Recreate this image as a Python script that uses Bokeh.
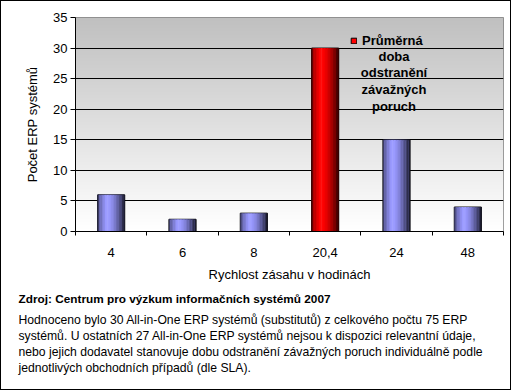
import numpy as np
from bokeh.plotting import figure
from bokeh.models import (ColumnDataSource, FixedTicker, Range1d, Label, Legend, LegendItem, Title)
from bokeh.embed import file_html
from bokeh.resources import INLINE

# ---- data ----
categories = ["4", "6", "8", "20,4", "24", "48"]
counts = [6, 2, 3, 30, 15, 4]
highlight = "20,4"
y_ticks = [0, 5, 10, 15, 20, 25, 30, 35]
y_label = "Počet ERP systémů"
x_label = "Rychlost zásahu v hodinách"
legend_lines = ["Průměrná", "doba", "odstranění", "závažných", "poruch"]
source_title = "Zdroj: Centrum pro výzkum informačních systémů 2007"
note_lines = [
    "Hodnoceno bylo 30 All-in-One ERP systémů (substitutů) z celkového počtu 75 ERP",
    "systémů. U ostatních 27 All-in-One ERP systémů nejsou k dispozici relevantní údaje,",
    "nebo jejich dodavatel stanovuje dobu odstranění závažných poruch individuálně podle",
    "jednotlivých obchodních případů (dle SLA).",
]

# ---- style ----
FONT = "Liberation Sans"
BLUE = (153, 153, 255)
RED = (255, 0, 0)
BAR_W = 0.38
N_STRIPS = 18

def shade(base, t):
    pts_t = [0.0, 0.08, 0.35, 0.6, 0.85, 1.0]
    pts_b = [0.25, 0.65, 1.08, 0.85, 0.45, 0.12]
    b = float(np.interp(t, pts_t, pts_b))
    rgb = []
    for c in base:
        if b <= 1:
            v = c * b
        else:
            v = c + (255 - c) * (b - 1) * 1.2
        rgb.append(int(max(0, min(255, v))))
    return "#%02x%02x%02x" % tuple(rgb)

n = len(categories)
xc = [i + 0.5 for i in range(n)]
base_colors = ["#%02x%02x%02x" % (RED if c == highlight else BLUE) for c in categories]

p = figure(width=511, height=390, x_range=Range1d(0, n), y_range=Range1d(0, 35),
           output_backend="svg", toolbar_location=None,
           min_border_left=74, min_border_right=9, min_border_top=16, min_border_bottom=160)
p.styles = {"border": "1px solid black"}
p.background_fill_color = "white"
p.border_fill_color = "white"
p.outline_line_color = "#808080"

# background gradient of the plot area
grad = np.zeros((64, 1), dtype=np.uint32)
view = grad.view(dtype=np.uint8).reshape((64, 1, 4))
for r in range(64):
    g = int(255 - (255 - 192) * r / 63)
    view[r, 0] = [g, g, g, 255]
img = p.image_rgba(image=[grad], x=0, y=0, dw=n, dh=35)
img.level = "image"

# base bars
src = ColumnDataSource(dict(x=xc, top=counts, color=base_colors, cat=categories))
base = p.vbar(x="x", top="top", width=BAR_W, bottom=0, fill_color="color",
              line_color="black", line_width=1, source=src)

# cylinder shading strips
sx, stop, scol = [], [], []
for i, c in enumerate(categories):
    basec = RED if c == highlight else BLUE
    for k in range(N_STRIPS):
        t = (k + 0.5) / N_STRIPS
        sx.append(xc[i] - BAR_W / 2 + t * BAR_W)
        stop.append(counts[i])
        scol.append(shade(basec, t))
p.vbar(x=sx, top=stop, bottom=0, width=BAR_W / N_STRIPS * 1.08, fill_color=scol, line_color=None)

# axes
p.xaxis.ticker = FixedTicker(ticks=xc, minor_ticks=list(range(n + 1)))
p.xaxis.major_label_overrides = {x: c for x, c in zip(xc, categories)}
p.xaxis.major_tick_out = 0
p.xaxis.major_tick_in = 0
p.xaxis.minor_tick_out = 4
p.xaxis.minor_tick_in = 0
p.xaxis.minor_tick_line_color = "black"
p.xaxis.major_label_standoff = 12
p.xaxis.axis_label = x_label
p.xaxis.axis_label_standoff = 7

p.yaxis.ticker = FixedTicker(ticks=y_ticks)
p.yaxis.major_tick_out = 5
p.yaxis.major_tick_in = 0
p.yaxis.minor_tick_line_color = None
p.yaxis.major_label_standoff = 3
p.yaxis.axis_label = y_label
p.yaxis.axis_label_standoff = 10

for ax in (p.xaxis, p.yaxis):
    ax.axis_line_color = "black"
    ax.major_tick_line_color = "black"
    ax.major_label_text_font = FONT
    ax.major_label_text_font_size = "13px"
    ax.major_label_text_color = "black"
    ax.axis_label_text_font = FONT
    ax.axis_label_text_font_size = "13px"
    ax.axis_label_text_font_style = "normal"
    ax.axis_label_text_color = "black"

p.xgrid.grid_line_color = None
p.ygrid.ticker = FixedTicker(ticks=y_ticks)
p.ygrid.grid_line_color = "black"
p.ygrid.grid_line_width = 1

# legend (first line with the swatch, remaining lines centred below)
hi = categories.index(highlight)
legend = Legend(items=[LegendItem(label=legend_lines[0], renderers=[base], index=hi)],
                location=(275, 183), padding=0, margin=0, border_line_color=None,
                background_fill_alpha=0, glyph_width=7, glyph_height=7, label_standoff=5,
                label_text_font=FONT, label_text_font_size="13px", label_text_color="black",
                label_text_font_style="bold")
p.add_layout(legend)
p.add_layout(Label(x=318.5, y=183, x_units="screen", y_units="screen",
                   text="\n".join(legend_lines[1:]), text_align="center", text_baseline="top",
                   text_font=FONT, text_font_size="13px", text_font_style="bold",
                   text_line_height=1.12, text_color="black"))

# note text below the chart
p.add_layout(Title(text=source_title, align="left", offset=-57, standoff=10,
                   text_font=FONT, text_font_size="11.8px", text_font_style="bold",
                   text_color="black"), "below")
p.add_layout(Title(text="\n".join(note_lines), align="left", offset=-57, standoff=1,
                   text_font=FONT, text_font_size="12.2px", text_font_style="normal",
                   text_line_height=1.15, text_color="black"), "below")

open("out.html", "w").write(file_html(p, INLINE))
